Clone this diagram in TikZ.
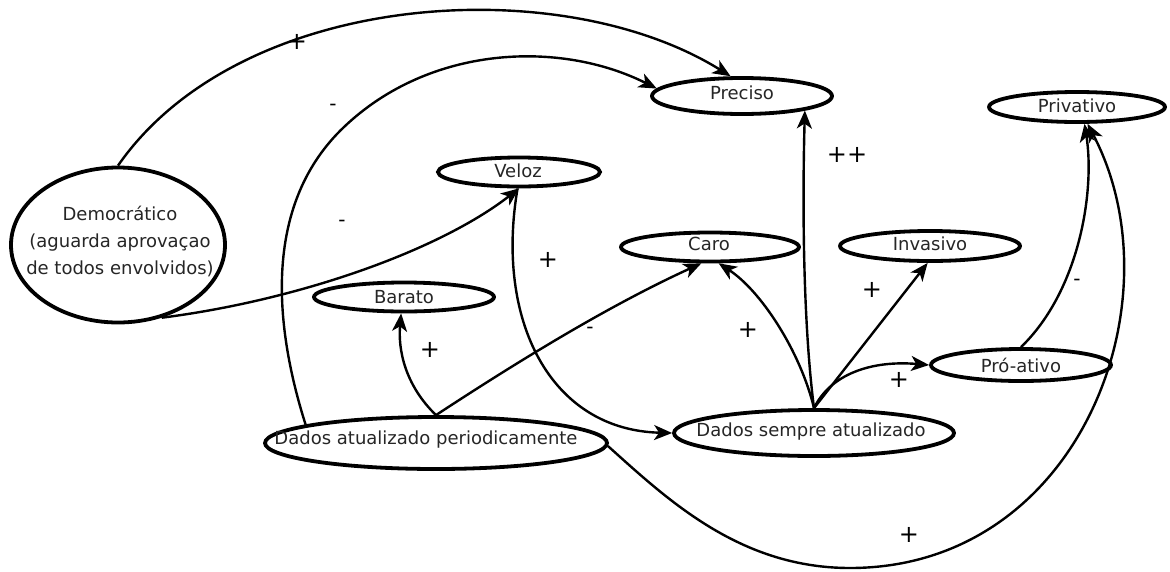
\documentclass[tikz,border=0pt]{standalone}
\usepackage{fontspec}
\setmainfont{DejaVu Sans}
\usetikzlibrary{shapes.geometric,arrows.meta}
\begin{document}
\begin{tikzpicture}[x=1pt,y=-1pt,
 ell/.style={draw, ellipse, line width=3.8pt, inner sep=0pt},
 txt/.style={font=\fontsize{18}{27}\selectfont, align=center, inner sep=0pt, text=black!85},
 sgn/.style={font=\fontsize{24}{24}\selectfont, inner sep=0pt},
 mns/.style={font=\fontsize{20}{20}\selectfont, inner sep=0pt},
 con/.style={line width=2.4pt, -{Stealth[length=18pt,width=15pt,inset=5pt]}}]
\useasboundingbox (0,0) rectangle (1170,571);
\fill[white] (0,0) rectangle (1170,571);

% ellipses
\node[ell, minimum width=180pt, minimum height=36pt] (pre) at (742,96) {};
\node[ell, minimum width=176pt, minimum height=30pt] (priv) at (1077,107) {};
\node[ell, minimum width=162pt, minimum height=29pt] (vel) at (519,172) {};
\node[ell, minimum width=178pt, minimum height=29pt] (caro) at (710,247) {};
\node[ell, minimum width=180pt, minimum height=30pt] (inv) at (930,246) {};
\node[ell, minimum width=214pt, minimum height=155pt] (dem) at (118,245) {};
\node[ell, minimum width=180pt, minimum height=29pt] (bar) at (404,297) {};
\node[ell, minimum width=180pt, minimum height=32pt] (pro) at (1021,365) {};
\node[ell, minimum width=342pt, minimum height=52pt] (dap) at (436,443) {};
\node[ell, minimum width=280pt, minimum height=46pt] (dsa) at (814,433) {};

% texts
\node[txt] (preT) at (742,93) {Preciso};
\node[txt] (privT) at (1077,106) {Privativo};
\node[txt] (velT) at (518,171) {Veloz};
\node[txt] (caroT) at (709,244) {Caro};
\node[txt] (invT) at (930,244) {Invasivo};
\node[txt] (demT) at (120,241) {Democrático\\(aguarda aprovaçao\\de todos envolvidos)};
\node[txt] (barT) at (404,297) {Barato};
\node[txt] (proT) at (1021,365) {Pró-ativo};
\node[txt] (dapT) at (426,440) {Dados atualizado periodicamente};
\node[txt] (dsaT) at (811,432) {Dados sempre atualizado};

% connectors
\draw[con] (dem.north) .. controls (240,-10) and (560,-30) .. (pre.120);
\draw[con] (dap.172) .. controls (273,322) and (264,203) .. (344,127) .. controls (430,45) and (560,40) .. (pre.175);
\draw[con] (dem.-59) .. controls (300,300) and (440,250) .. (vel.south);
\draw[con] (vel.-95) .. controls (495,320) and (550,430) .. (dsa.west);
\draw[con] (dap.north) .. controls (405,385) and (398,350) .. (bar.-100);
\draw[con] (dap.north) .. controls (520,360) and (610,305) .. (caro.-118);
\draw[con] (dsa.north) .. controls (804,330) and (802,220) .. (pre.-13);
\draw[con] (dsa.north) .. controls (800,350) and (760,290) .. (caro.-62);
\draw[con] (dsa.north) -- (inv.-98);
\draw[con] (dsa.north) .. controls (830,375) and (870,360) .. (pro.west);
\draw[con] (pro.north) .. controls (1080,290) and (1095,190) .. (priv.-66);
\draw[con] (dap.-1) .. controls (668,500) and (740,568) .. (850,568) .. controls (1080,568) and (1180,300) .. (priv.-58);

% signs
\node[sgn] (l1) at (297,42) {+};
\node[mns] (l2) at (333,107) {-};
\node[mns] (l3) at (342,223) {-};
\node[sgn] (l4) at (548,260) {+};
\node[sgn] (l5) at (847,155) {++};
\node[sgn] (l6) at (430,350) {+};
\node[mns] (l7) at (590,330) {-};
\node[sgn] (l8) at (748,330) {+};
\node[sgn] (l9) at (872,290) {+};
\node[sgn] (l10) at (899,380) {+};
\node[mns] (l11) at (1077,282) {-};
\node[sgn] (l12) at (909,535) {+};
\end{tikzpicture}
\end{document}
